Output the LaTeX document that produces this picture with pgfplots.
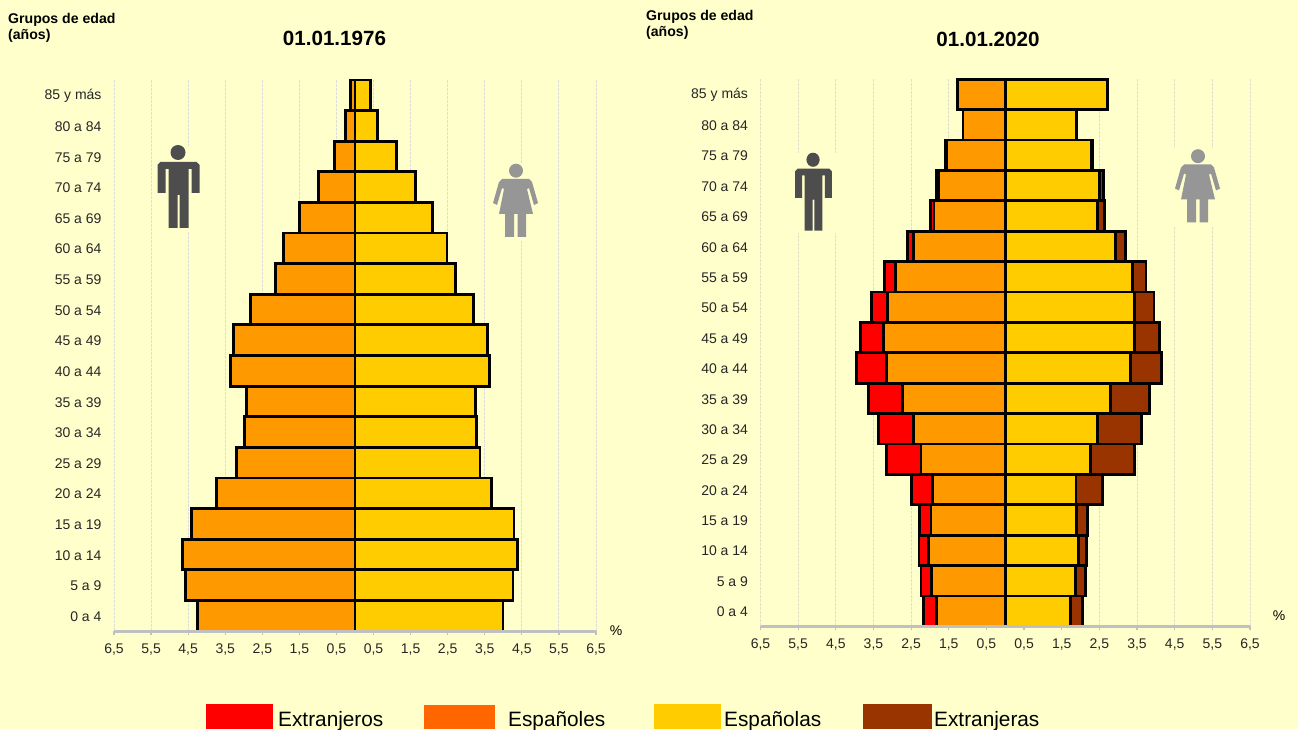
\documentclass[border=0pt]{standalone}
\usepackage{fontspec}
\setmainfont{Liberation Sans}
\usepackage{pgfplots}
\usepackage{pgfplotstable}
\pgfplotsset{compat=1.18}
\definecolor{bg}{HTML}{FFFFCC}
\definecolor{exm}{HTML}{FF0000}
\definecolor{esm}{HTML}{FF9900}
\definecolor{esf}{HTML}{FFCC00}
\definecolor{exf}{HTML}{993300}
\definecolor{legm}{HTML}{FF6600}
\definecolor{axg}{HTML}{C0C0C0}
\definecolor{grd}{HTML}{DEDED2}
\definecolor{man}{HTML}{4D4D4D}
\definecolor{wom}{HTML}{969696}

% y: 0 = 0 a 4 ... 17 = 85 y mas; sm/tm = Spanish / total (Spanish + foreign) men; sf/tf = women
\pgfplotstableread{
y sm tm sf tf
0 -4.24 -4.24 3.99 3.99
1 -4.57 -4.57 4.26 4.26
2 -4.65 -4.65 4.38 4.38
3 -4.41 -4.41 4.29 4.29
4 -3.73 -3.73 3.68 3.68
5 -3.19 -3.19 3.37 3.37
6 -2.97 -2.97 3.27 3.27
7 -2.92 -2.92 3.26 3.26
8 -3.35 -3.35 3.62 3.62
9 -3.27 -3.27 3.58 3.58
10 -2.81 -2.81 3.19 3.19
11 -2.15 -2.15 2.72 2.72
12 -1.92 -1.92 2.48 2.48
13 -1.50 -1.50 2.08 2.08
14 -0.98 -0.98 1.63 1.63
15 -0.56 -0.56 1.12 1.12
16 -0.25 -0.25 0.61 0.61
17 -0.126 -0.126 0.41 0.41
}\dataA
\pgfplotstableread{
y sm tm sf tf
0 -1.82 -2.17 1.74 2.06
1 -1.96 -2.24 1.87 2.14
2 -2.04 -2.29 1.94 2.16
3 -1.97 -2.27 1.89 2.19
4 -1.93 -2.50 1.88 2.59
5 -2.24 -3.15 2.26 3.44
6 -2.44 -3.37 2.44 3.62
7 -2.72 -3.64 2.79 3.82
8 -3.15 -3.95 3.32 4.15
9 -3.23 -3.85 3.44 4.10
10 -3.12 -3.55 3.44 3.95
11 -2.92 -3.20 3.37 3.74
12 -2.43 -2.60 2.93 3.19
13 -1.89 -1.99 2.455 2.63
14 -1.78 -1.84 2.50 2.60
15 -1.56 -1.58 2.28 2.32
16 -1.12 -1.125 1.88 1.89
17 -1.26 -1.27 2.72 2.73
}\dataB

\pgfplotsset{pyr/.style={
  scale only axis,
  xmin=-6.5,xmax=6.5,ymin=-0.5,ymax=17.5,
  axis x line*=bottom,
  axis y line*=left,
  clip=false,
  xtick={-6.5,-5.5,-4.5,-3.5,-2.5,-1.5,-0.5,0.5,1.5,2.5,3.5,4.5,5.5,6.5},
  xticklabels={{6,5},{5,5},{4,5},{3,5},{2,5},{1,5},{0,5},{0,5},{1,5},{2,5},{3,5},{4,5},{5,5},{6,5}},
  ytick={0,...,17},
  yticklabels={0 a 4,5 a 9,10 a 14,15 a 19,20 a 24,25 a 29,30 a 34,35 a 39,40 a 44,45 a 49,50 a 54,55 a 59,60 a 64,65 a 69,70 a 74,75 a 79,80 a 84,85 y más},
  tick label style={font=\fontsize{14}{16}\selectfont,color=black!85},
  tick align=outside,
  major tick length=4pt,
  xmajorgrids,
  grid style={grd,line width=0.9pt,dash pattern=on 3pt off 1pt},
  x axis line style={draw=axg,line width=3pt,-},
  y axis line style={draw=none},
  xtick style={draw=axg,line width=1.2pt},
  ytick style={draw=none},
  y tick label style={xshift=-5pt,yshift=-0.8pt},
  x tick label style={yshift=-5pt},
}}
\newcommand{\manicon}{%
  \fill[man] (20.5,7.5) circle (7.5);
  \fill[man] (3,17)--(39,17)--(42,20)--(42,48)--(34,48)--(34,24)--(31,24)--(31,83)--(22,83)--(22,50)--(20,50)--(20,83)--(11,83)--(11,24)--(8,24)--(8,48)--(0,48)--(0,20)--cycle;
}
\newcommand{\womicon}{%
  \fill[wom] (23,6.7) circle (7);
  \fill[wom] (9,15)--(36,15)--(39,18)--(45,39)--(41,41)--(36,24)--(34,25)--(40,50)--(33,50)--(33,73)--(24.5,73)--(24.5,50)--(21,50)--(21,73)--(12,73)--(12,50)--(6,50)--(11,25)--(9,24)--(4,41)--(0,39)--(6,18)--cycle;
}
\newcommand{\barsfrom}[2]{%
  \addplot[xbar,bar shift=0pt,bar width=#2pt,fill=exm,draw=black,line width=2.8pt] table[x=tm,y=y] {#1};
  \addplot[xbar,bar shift=0pt,bar width=#2pt,fill=exf,draw=black,line width=2.8pt] table[x=tf,y=y] {#1};
  \addplot[xbar,bar shift=0pt,bar width=#2pt,fill=esm,draw=black,line width=2.8pt] table[x=sm,y=y] {#1};
  \addplot[xbar,bar shift=0pt,bar width=#2pt,fill=esf,draw=black,line width=2.8pt] table[x=sf,y=y] {#1};
  \addplot[axg,line width=3pt,forget plot] coordinates {(-6.5,-0.5) (6.5,-0.5)};
}
\begin{document}
\begin{tikzpicture}[x=1pt,y=1pt]
\useasboundingbox (0,0) rectangle (1298,729);
\clip (0,0) rectangle (1298,729);
\fill[bg] (0,0) rectangle (1298,729);

\begin{axis}[pyr,at={(114pt,98pt)},anchor=south west,width=482pt,height=551pt]
\barsfrom{\dataA}{30.6}
\end{axis}
\begin{axis}[pyr,at={(760.5pt,102.7pt)},anchor=south west,width=489.5pt,height=547pt]
\barsfrom{\dataB}{30.4}
\end{axis}

% icon masks and icons
\fill[bg] (156,729-231) rectangle (203,729-146);
\fill[bg] (491,729-241) rectangle (541,729-163);
\fill[bg] (793,729-233) rectangle (836,729-153);
\fill[bg] (1172,729-226) rectangle (1222,729-148);
\begin{scope}[shift={(157.5,729-145)},yscale=-1]\manicon\end{scope}
\begin{scope}[shift={(493,729-164)},yscale=-1]\womicon\end{scope}
\begin{scope}[shift={(795,729-152.7)},xscale=0.88,yscale=-0.94]\manicon\end{scope}
\begin{scope}[shift={(1175,729-149.5)},yscale=-1]\womicon\end{scope}

% texts
\node[anchor=west,align=left,font=\fontsize{14.1}{16}\selectfont\bfseries,inner sep=0pt] at (8,729-28) {Grupos de edad\\(años)};
\node[anchor=west,align=left,font=\fontsize{14.1}{16}\selectfont\bfseries,inner sep=0pt] at (646,729-25) {Grupos de edad\\(años)};
\node[font=\fontsize{20.6}{24}\selectfont\bfseries,inner sep=0pt] at (334.5,729-38.5) {01.01.1976};
\node[font=\fontsize{20.6}{24}\selectfont\bfseries,inner sep=0pt] at (988,729-39) {01.01.2020};
\node[font=\fontsize{14}{16}\selectfont,inner sep=0pt] at (616,729-631) {\%};
\node[font=\fontsize{14}{16}\selectfont,inner sep=0pt] at (1279,729-615.5) {\%};

% legend
\fill[exm] (206,0) rectangle (273,25);
\fill[legm] (424,0) rectangle (494.5,24);
\fill[esf] (654,0) rectangle (721,25);
\fill[exf] (863,0) rectangle (932,25);
\node[anchor=base west,inner sep=0pt,font=\fontsize{20.8}{24}\selectfont] at (278,3) {Extranjeros};
\node[anchor=base west,inner sep=0pt,font=\fontsize{20.8}{24}\selectfont] at (508,3) {Españoles};
\node[anchor=base west,inner sep=0pt,font=\fontsize{20.8}{24}\selectfont] at (724,3) {Españolas};
\node[anchor=base west,inner sep=0pt,font=\fontsize{20.8}{24}\selectfont] at (934,3) {Extranjeras};
\end{tikzpicture}
\end{document}
